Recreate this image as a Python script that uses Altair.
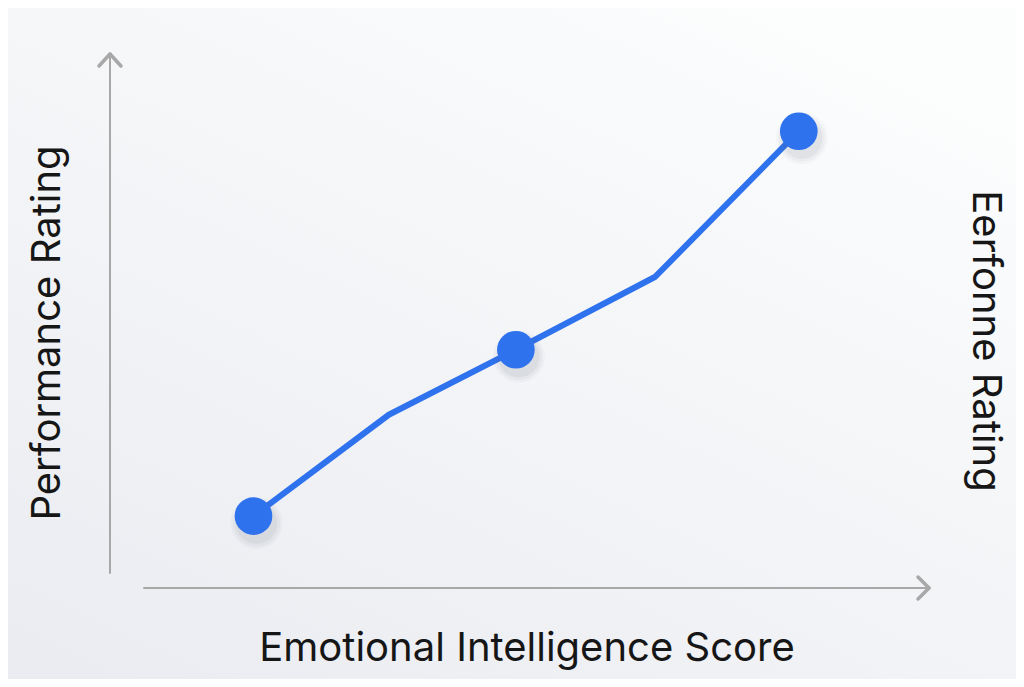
import altair as alt
import pandas as pd

# emotional intelligence score vs performance rating
ei_score = [17.5, 34, 49.5, 66.5, 84]
perf_rating = [13.5, 32.5, 44.7, 58.4, 85.7]
marked = [True, False, True, False, True]

W, H = 1008, 671
LINE_BLUE = "#2f72ee"
AXIS_GREY = "#a8a8a8"
TEXT = "#161616"
FONT = "Inter"

df = pd.DataFrame({"ei": ei_score, "perf": perf_rating, "marked": marked})
dots = df[df["marked"]]

xs = alt.Scale(domain=[0, 100], range=[102, 922])
ys = alt.Scale(domain=[0, 100], range=[580, 47])
X = alt.X("ei:Q", scale=xs, axis=None)
Y = alt.Y("perf:Q", scale=ys, axis=None)

bg = alt.Chart(pd.DataFrame({"a": [0]})).mark_rect(
    color=alt.Gradient(
        gradient="linear",
        stops=[alt.GradientStop(color="#fcfdfd", offset=0),
               alt.GradientStop(color="#eaecf1", offset=1)],
        x1=0.8, x2=0.1, y1=0, y2=1,
    )
).encode(x=alt.value(-8), x2=alt.value(W + 8), y=alt.value(-8), y2=alt.value(H + 8))


def seg(x1, y1, x2, y2, w):
    return alt.Chart(pd.DataFrame({"a": [0]})).mark_rule(
        color=AXIS_GREY, strokeWidth=w, strokeCap="round"
    ).encode(x=alt.value(x1), x2=alt.value(x2), y=alt.value(y1), y2=alt.value(y2))


axes = [
    seg(102, 47, 102, 565, 2),
    seg(102, 46, 91, 58, 3.5),
    seg(102, 46, 113, 58, 3.5),
    seg(136, 580, 920, 580, 2),
    seg(921, 580, 910, 569, 3.5),
    seg(921, 580, 910, 591, 3.5),
]

line = alt.Chart(df).mark_line(
    color=LINE_BLUE, strokeWidth=6, strokeJoin="round"
).encode(x=X, y=Y)

shadows = [
    alt.Chart(dots).mark_circle(
        color="#5a6070", opacity=op, size=sz, xOffset=3, yOffset=7
    ).encode(x=X, y=Y)
    for sz, op in [(2700, 0.035), (2200, 0.05), (1700, 0.07)]
]

points = alt.Chart(dots).mark_circle(
    color=LINE_BLUE, opacity=1, size=1420
).encode(x=X, y=Y)


def label(txt, x, y, angle):
    return alt.Chart(pd.DataFrame({"t": [txt]})).mark_text(
        font=FONT, fontSize=40, color=TEXT, angle=angle,
        align="center", baseline="middle"
    ).encode(text="t:N", x=alt.value(x), y=alt.value(y))


titles = [
    label("Emotional Intelligence Score", 519, 641, 0),
    label("Performance Rating", 40, 325, 270),
    label("Eerfonne Rating", 977, 333, 90),
]

chart = alt.layer(bg, *axes, line, *shadows, points, *titles).properties(
    width=W, height=H,
    autosize=alt.AutoSizeParams(type="none"),
    padding=0,
    background="#f4f5f8",
).configure_view(stroke=None, clip=False)

chart.save("out.html", embed_options={"renderer": "svg", "actions": False})
